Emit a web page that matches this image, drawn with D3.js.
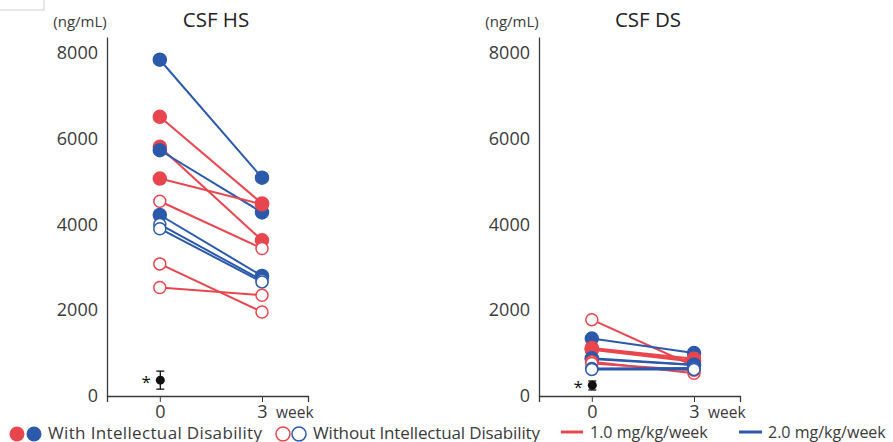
<!DOCTYPE html>
<html>
<head>
<meta charset="utf-8">
<script src="https://cdn.jsdelivr.net/npm/d3@7"></script>
<style>
  body { margin: 0; background: #fff; }
  svg { display: block; font-family: "Open Sans", sans-serif; }
</style>
</head>
<body>
<div id="chart"></div>
<script>
// time points (week)
var weeks = [0, 3];
var yTicks = [0, 2000, 4000, 6000, 8000];

// CSF HS, one entry per patient
var hsWeek0 = [7840, 6510, 5810, 5730, 5070, 4540, 4220, 4000, 3900, 3080, 2530];
var hsWeek3 = [5090, 4490, 3630, 4280, 4470, 3440, 2800, 2700, 2660, 1960, 2350];
var hsDose  = ["2.0", "1.0", "1.0", "2.0", "1.0", "1.0", "2.0", "2.0", "2.0", "1.0", "1.0"];
var hsID    = [true, true, true, true, true, false, true, false, false, false, false];

// CSF DS
var dsWeek0 = [1780, 1340, 1120, 1100, 1080, 880, 860, 800, 760, 640, 620];
var dsWeek3 = [700, 1000, 870, 820, 800, 730, 720, 530, 600, 650, 620];
var dsDose  = ["1.0", "2.0", "1.0", "1.0", "1.0", "2.0", "2.0", "1.0", "1.0", "2.0", "2.0"];
var dsID    = [false, true, true, true, true, true, true, false, false, false, false];

// control (*) mean and range
var ctrlMean = [370, 250];
var ctrlLow  = [160, 140];
var ctrlHigh = [580, 350];

var width = 893, height = 442;
var red = "#e8464f", blue = "#2c5aab", ink = "#3a3a3a";
var colorOf = function(d){ return d === "1.0" ? red : blue; };

var svg = d3.select("#chart").append("svg")
    .attr("width", width)
    .attr("height", height);

// small box in the top left corner
svg.append("rect")
    .attr("x", -1).attr("y", -1)
    .attr("width", 45).attr("height", 11)
    .attr("fill", "none")
    .attr("stroke", "#cfcfcf");

var y = d3.scaleLinear().domain([0, 8370]).range([396, 37]);

function panel(left, title, w0, w3, dose, id, k) {
    var x = d3.scaleLinear().domain([-1.55, 4.35]).range([left, left + 201]);
    var g = svg.append("g");

    g.append("text")
        .attr("x", left - 27).attr("y", 27)
        .attr("text-anchor", "middle")
        .attr("font-size", 15)
        .attr("fill", ink)
        .text("(ng/mL)");

    g.append("text")
        .attr("x", left + 109).attr("y", 27)
        .attr("text-anchor", "middle")
        .attr("font-size", 20.5)
        .attr("fill", "#222")
        .text(title);

    var ya = g.append("g")
        .attr("transform", "translate(" + left + ",0)")
        .call(d3.axisLeft(y).tickValues(yTicks).tickSize(0).tickPadding(9).tickFormat(d3.format("d")));
    ya.select(".domain").attr("stroke", ink).attr("stroke-width", 1.3);
    ya.selectAll("text").attr("font-size", 18).attr("fill", ink).attr("font-family", "Open Sans");

    var xa = g.append("g")
        .attr("transform", "translate(0," + y(0) + ")")
        .call(d3.axisBottom(x).tickValues(weeks).tickSize(6).tickPadding(3).tickFormat(d3.format("d")));
    xa.select(".domain").attr("stroke", ink).attr("stroke-width", 1.3);
    xa.selectAll("line").attr("stroke", ink);
    xa.selectAll("text").attr("font-size", 18).attr("fill", ink).attr("font-family", "Open Sans");

    g.append("text")
        .attr("x", x(3) + 14).attr("y", y(0) + 22)
        .attr("font-size", 15.5)
        .attr("fill", ink)
        .text("week");

    var idx = d3.range(w0.length);

    g.selectAll(".pair")
        .data(idx)
        .enter().append("line")
        .attr("class", "pair")
        .attr("x1", x(0)).attr("x2", x(3))
        .attr("y1", function(i){ return y(w0[i]); })
        .attr("y2", function(i){ return y(w3[i]); })
        .attr("stroke", function(i){ return colorOf(dose[i]); })
        .attr("stroke-width", 2);

    [[0, w0], [3, w3]].forEach(function(p){
        g.selectAll(".pt" + p[0])
            .data(idx)
            .enter().append("circle")
            .attr("class", "pt" + p[0])
            .attr("cx", x(p[0]))
            .attr("cy", function(i){ return y(p[1][i]); })
            .attr("r", function(i){ return id[i] ? 6.5 : 6; })
            .attr("fill", function(i){ return id[i] ? colorOf(dose[i]) : "#fff"; })
            .attr("stroke", function(i){ return colorOf(dose[i]); })
            .attr("stroke-width", 1.5);
    });

    // control
    var cx = x(0) + 0.5;
    g.append("line")
        .attr("x1", cx).attr("x2", cx)
        .attr("y1", y(ctrlLow[k])).attr("y2", y(ctrlHigh[k]))
        .attr("stroke", "#111").attr("stroke-width", 1.3);
    [ctrlLow[k], ctrlHigh[k]].forEach(function(v){
        g.append("line")
            .attr("x1", cx - 4).attr("x2", cx + 4)
            .attr("y1", y(v)).attr("y2", y(v))
            .attr("stroke", "#111").attr("stroke-width", 1.3);
    });
    g.append("circle")
        .attr("cx", cx).attr("cy", y(ctrlMean[k]))
        .attr("r", 4.5).attr("fill", "#111");
    g.append("text")
        .attr("x", cx - 14).attr("y", y(ctrlMean[k]) + 8)
        .attr("text-anchor", "middle")
        .attr("font-size", 17)
        .attr("fill", "#111")
        .text("*");
}

panel(107, "CSF HS", hsWeek0, hsWeek3, hsDose, hsID, 0);
panel(539, "CSF DS", dsWeek0, dsWeek3, dsDose, dsID, 1);

// legend
var leg = svg.append("g").attr("font-size", 17).attr("fill", ink);
leg.append("circle").attr("cx", 17).attr("cy", 434).attr("r", 7.5).attr("fill", red);
leg.append("circle").attr("cx", 34).attr("cy", 434).attr("r", 7.5).attr("fill", blue);
leg.append("text").attr("x", 48).attr("y", 438.5).attr("textLength", 214).text("With Intellectual Disability");
leg.append("circle").attr("cx", 283).attr("cy", 434).attr("r", 7).attr("fill", "#fff").attr("stroke", red).attr("stroke-width", 1.5);
leg.append("circle").attr("cx", 299).attr("cy", 434).attr("r", 7).attr("fill", "#fff").attr("stroke", blue).attr("stroke-width", 1.5);
leg.append("text").attr("x", 313).attr("y", 438.5).attr("textLength", 227).text("Without Intellectual Disability");

leg.append("line").attr("x1", 561).attr("x2", 583).attr("y1", 432).attr("y2", 432).attr("stroke", red).attr("stroke-width", 3);
leg.append("text").attr("x", 590).attr("y", 438).attr("font-size", 16).text("1.0 mg/kg/week");
leg.append("line").attr("x1", 739).attr("x2", 762).attr("y1", 432).attr("y2", 432).attr("stroke", blue).attr("stroke-width", 3);
leg.append("text").attr("x", 768).attr("y", 438).attr("font-size", 16).text("2.0 mg/kg/week");
</script>
</body>
</html>
